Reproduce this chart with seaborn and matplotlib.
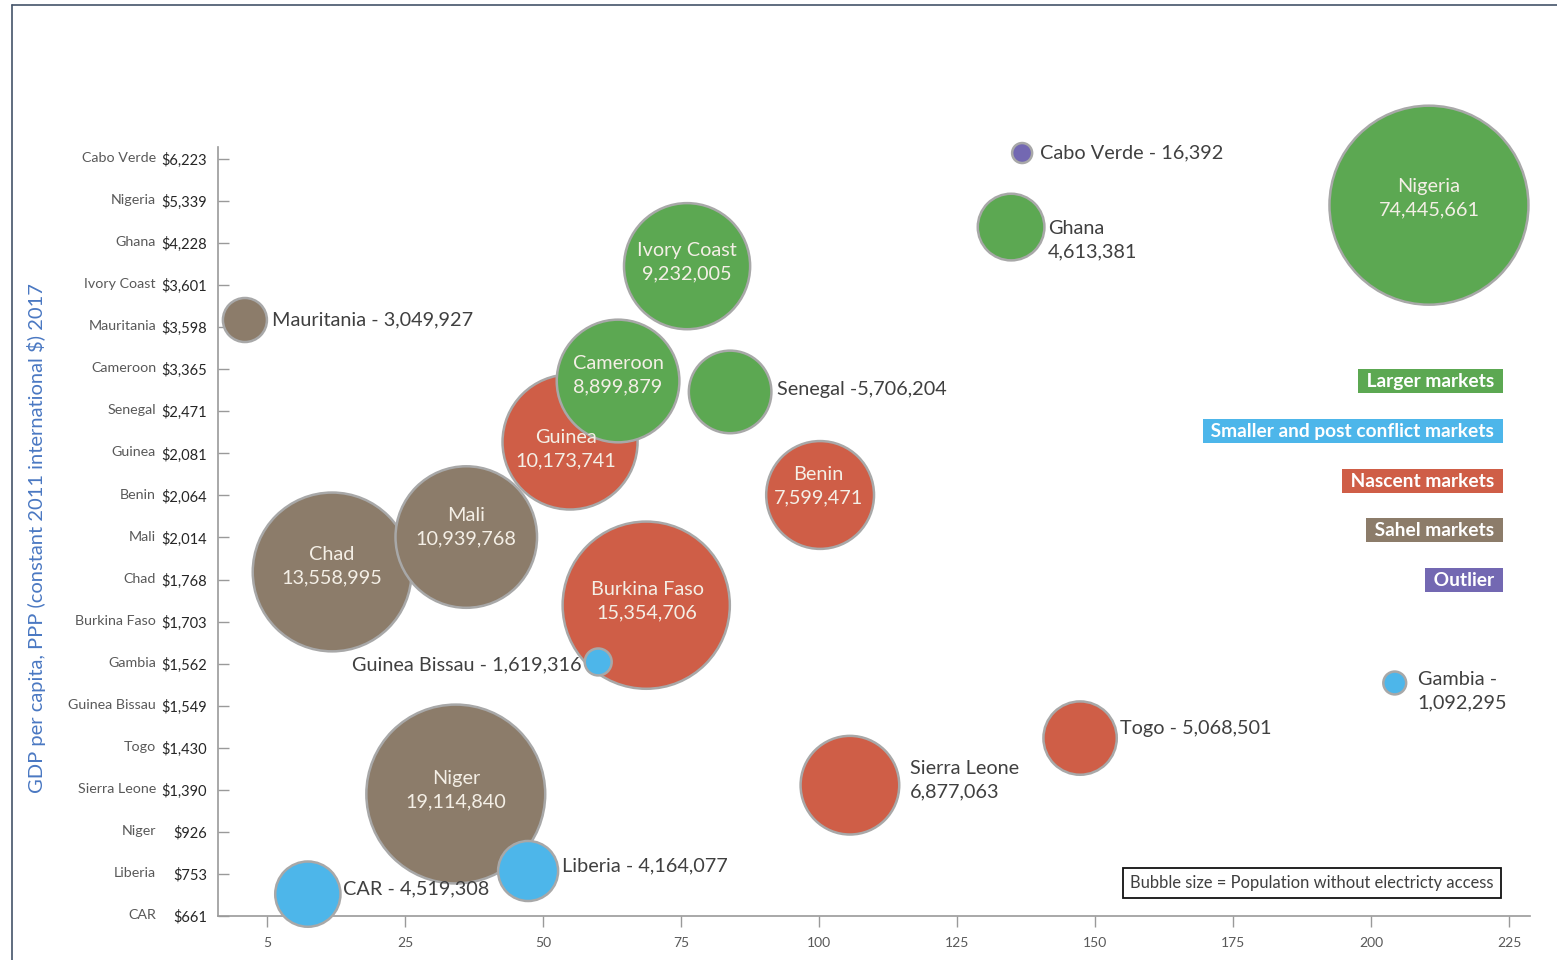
import numpy as np
import pandas as pd
import matplotlib
matplotlib.use("Agg")
import matplotlib.pyplot as plt
import matplotlib.colors as mcolors
from matplotlib.lines import Line2D
import seaborn as sns

# ---- GDP per capita rows (bottom to top) ----
ROW_COUNTRIES = ["CAR", "Liberia", "Niger", "Sierra Leone", "Togo", "Guinea Bissau",
                 "Gambia", "Burkina Faso", "Chad", "Mali", "Benin", "Guinea", "Senegal",
                 "Cameroon", "Mauritania", "Ivory Coast", "Ghana", "Nigeria", "Cabo Verde"]
ROW_GDP = ["$661", "$753", "$926", "$1,390", "$1,430", "$1,549", "$1,562", "$1,703",
           "$1,768", "$2,014", "$2,064", "$2,081", "$2,471", "$3,365", "$3,598",
           "$3,601", "$4,228", "$5,339", "$6,223"]

X_TICK_LABELS = ["5", "25", "50", "75", "100", "125", "150", "175", "200", "225"]

# ---- bubbles (listed in drawing order) ----
COUNTRY = ["Cabo Verde", "Nigeria", "Ghana", "Ivory Coast", "Mauritania", "Guinea",
           "Cameroon", "Senegal", "Benin", "Chad", "Mali", "Burkina Faso",
           "Guinea Bissau", "Gambia", "Togo", "Sierra Leone", "Niger", "Liberia", "CAR"]
GROUP = ["Outlier", "Larger markets", "Larger markets", "Larger markets", "Sahel markets",
         "Nascent markets", "Larger markets", "Larger markets", "Nascent markets",
         "Sahel markets", "Sahel markets", "Nascent markets",
         "Smaller and post conflict markets", "Smaller and post conflict markets",
         "Nascent markets", "Nascent markets", "Sahel markets",
         "Smaller and post conflict markets", "Smaller and post conflict markets"]
X_VALUE = [136.8, 210.5, 134.8, 76.1, -4.0, 54.9, 63.6, 83.9, 100.2, 11.8, 36.1, 68.7,
           60.0, 204.3, 147.3, 105.6, 34.2, 47.3, 7.4]
Y_VALUE = [18.14, 16.90, 16.38, 15.45, 14.17, 11.27, 12.72, 12.46, 10.01, 8.18, 9.01,
           7.39, 6.04, 5.54, 4.23, 3.11, 2.90, 1.07, 0.52]
POPULATION = [16392, 74445661, 4613381, 9232005, 3049927, 10173741, 8899879, 5706204,
              7599471, 13558995, 10939768, 15354706, 1619316, 1092295, 5068501,
              6877063, 19114840, 4164077, 4519308]

GROUP_ORDER = ["Larger markets", "Smaller and post conflict markets", "Nascent markets",
               "Sahel markets", "Outlier"]
PALETTE = {
    "Larger markets": "#5CA852",
    "Smaller and post conflict markets": "#4DB6EA",
    "Nascent markets": "#CF5E47",
    "Sahel markets": "#8C7C6A",
    "Outlier": "#7368B2",
}

# label text and placement: (template, dx px, dy px, horizontal alignment, inside bubble)
LABELS = {
    "Cabo Verde": ("{c} - {p}", 18, 0, "left", False),
    "Nigeria": ("{c}\n{p}", 0, -7, "center", True),
    "Ghana": ("{c}\n{p}", 37, 13, "left", False),
    "Ivory Coast": ("{c}\n{p}", 0, -4, "center", True),
    "Mauritania": ("{c} - {p}", 27, 0, "left", False),
    "Guinea": ("{c}\n{p}", -4, 7, "center", True),
    "Cameroon": ("{c}\n{p}", 0, -6, "center", True),
    "Senegal": ("{c} -{p}", 47, -2, "left", False),
    "Benin": ("{c}\n{p}", -2, -9, "center", True),
    "Chad": ("{c}\n{p}", 0, -6, "center", True),
    "Mali": ("{c}\n{p}", 0, -10, "center", True),
    "Burkina Faso": ("{c}\n{p}", 1, -4, "center", True),
    "Guinea Bissau": ("{c} - {p}", -17, 3, "right", False),
    "Gambia": ("{c} -\n{p}", 23, 8, "left", False),
    "Togo": ("{c} - {p}", 40, -10, "left", False),
    "Sierra Leone": ("{c}\n{p}", 60, -5, "left", False),
    "Niger": ("{c}\n{p}", 0, -4, "center", True),
    "Liberia": ("{c} - {p}", 34, -5, "left", False),
    "CAR": ("{c} - {p}", 35, -5, "left", False),
}

df = pd.DataFrame({"country": COUNTRY, "group": GROUP, "x": X_VALUE, "y": Y_VALUE,
                   "population": POPULATION})

# ---- styling ----
sns.set_theme(style="white")
plt.rcParams["font.family"] = ["Lato", "DejaVu Sans"]

W, H, DPI = 1557, 960, 100
fig = plt.figure(figsize=(W / DPI, H / DPI), dpi=DPI)
fig.patch.set_facecolor("white")

PX_PER_X = 5.52          # pixels per x unit
X0_PX = 267              # pixel of x = 0
ROW_PX = 42.06           # pixels per row
AX_L, AX_R, AX_B, AX_T = 218, 1530, 916, 147
ax = fig.add_axes([AX_L / W, 1 - AX_B / H, (AX_R - AX_L) / W, (AX_B - AX_T) / H])
ax.set_xlim((AX_L - X0_PX) / PX_PER_X, (AX_R - X0_PX) / PX_PER_X)
ax.set_ylim(0, (AX_B - AX_T) / ROW_PX)

# bubble area follows a saturating curve of the population without access
P_HALF, STEEP = 11e6, 2.5


def _hill(p):
    p = np.asarray(p, dtype=float)
    return p ** STEEP / (p ** STEEP + P_HALF ** STEEP)


def _hill_inv(v):
    v = np.clip(np.asarray(v, dtype=float), 1e-12, 1 - 1e-12)
    return P_HALF * (v / (1 - v)) ** (1 / STEEP)


size_norm = mcolors.FuncNorm((_hill, _hill_inv), vmin=0, vmax=max(POPULATION))
PT = 72 / DPI
S_MIN = (2 * 10 * PT) ** 2
S_MAX = (2 * 99.5 * PT) ** 2

sns.scatterplot(data=df, x="x", y="y", hue="group", hue_order=GROUP_ORDER,
                palette=PALETTE, size="population", sizes=(S_MIN, S_MAX),
                size_norm=size_norm, edgecolor="#A8A8A8", linewidth=1.8, alpha=1,
                legend=False, ax=ax, clip_on=False, zorder=3)

# bubble labels
for c, x, y, p in zip(COUNTRY, X_VALUE, Y_VALUE, POPULATION):
    tpl, dx, dy, ha, inside = LABELS[c]
    ax.annotate(tpl.format(c=c, p=f"{p:,}"), xy=(x, y), xytext=(dx * PT, -dy * PT),
                textcoords="offset points", ha=ha, va="center", fontsize=14.3,
                color="#F4EFE6" if inside else "#404040", linespacing=1.45,
                zorder=5, annotation_clip=False)

# axes, ticks and labels
for side in ("top", "right"):
    ax.spines[side].set_visible(False)
for side in ("left", "bottom"):
    ax.spines[side].set_color("#9A9A9A")
    ax.spines[side].set_linewidth(1.2)

ax.set_xticks(np.arange(len(X_TICK_LABELS)) * 25)
ax.set_xticklabels(X_TICK_LABELS)
ax.set_yticks(np.arange(len(ROW_GDP)))
ax.set_yticklabels(ROW_GDP)
ax.tick_params(axis="x", direction="out", length=8, width=1, color="#9A9A9A",
               labelsize=10, labelcolor="#595959", pad=7, bottom=True)
ax.tick_params(axis="y", direction="in", length=8, width=1, color="#9A9A9A",
               labelsize=10.5, labelcolor="#262626", pad=8, left=True)
ax.set_xlabel("")
ax.set_ylabel("")

ytrans = ax.get_yaxis_transform()
name_x = (156 - AX_L) / (AX_R - AX_L)
for i, name in enumerate(ROW_COUNTRIES):
    ax.text(name_x, i + 0.02, name, transform=ytrans, ha="right", va="center",
            fontsize=10.3, color="#595959")

fig.text(37 / W, 1 - 538 / H, "GDP per capita, PPP (constant 2011 international $) 2017",
         rotation=90, ha="center", va="center", fontsize=14.5, color="#4A78C2")

# group key
KEY_Y = [381, 431, 481, 530, 580]
for g, ypx in zip(GROUP_ORDER, KEY_Y):
    fig.text(1499 / W, 1 - ypx / H, f" {g} ", ha="right", va="center", fontsize=13.8,
             fontweight="bold", color="white",
             bbox=dict(boxstyle="square,pad=0.2", fc=PALETTE[g], ec="none"))

fig.text(1312 / W, 1 - 883 / H, "Bubble size = Population without electricty access",
         ha="center", va="center", fontsize=11.9, color="#404040",
         bbox=dict(boxstyle="square,pad=0.45", fc="white", ec="#111111", lw=1.3))

# outer frame
fx, fy = 12 / W, 1 - 5 / H
fig.add_artist(Line2D([fx, 1], [fy, fy], transform=fig.transFigure, color="#44546A", lw=1.2))
fig.add_artist(Line2D([fx, fx], [0, fy], transform=fig.transFigure, color="#44546A", lw=1.2))

fig.savefig("out.png", dpi=DPI, facecolor="white")
